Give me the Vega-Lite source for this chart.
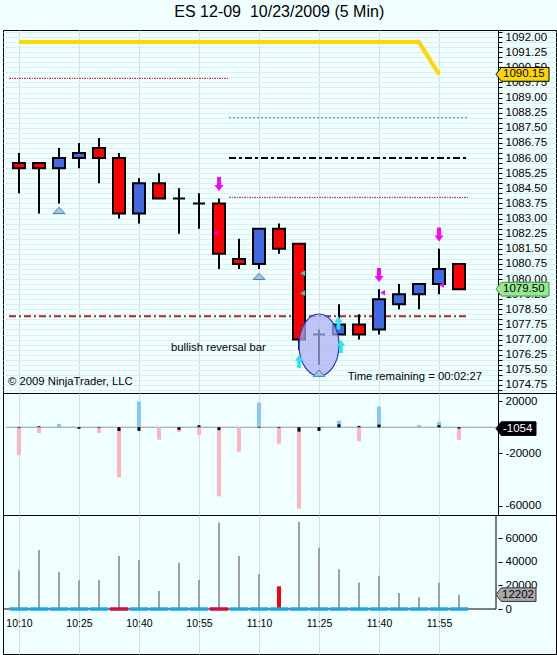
{
"$schema":"https://vega.github.io/schema/vega-lite/v6.json",
"background":"#F0FFFF",
"padding":{"left":2,"right":2,"top":3,"bottom":1},
"bounds":"flush",
"title":{"text":"ES 12-09\u00a0 10/23/2009 (5 Min)","fontSize":16,"fontWeight":"normal","font":"Liberation Sans","color":"#000000","anchor":"middle","offset":6},
"spacing":0,
"config":{"view":{"stroke":"#000000","strokeWidth":1},"scale":{"continuousPadding":0},"font":"Liberation Sans","axis":{"labelFont":"Liberation Sans","labelColor":"#000000","tickColor":"#000000","domainColor":"#000000","domainWidth":1,"tickWidth":1,"title":null}},
"datasets":{
"candles":[
{"t":"2009-10-23T10:10:00Z","o":1085.75,"h":1086.25,"l":1084.25,"c":1085.5,"stop":1091.75,"delta":-21300,"ticks":-500,"vol":33000,"state":"up","alert":false},
{"t":"2009-10-23T10:15:00Z","o":1085.75,"h":1085.75,"l":1083.25,"c":1085.5,"stop":1091.75,"delta":-4400,"ticks":700,"vol":50000,"state":"up","alert":false},
{"t":"2009-10-23T10:20:00Z","o":1085.5,"h":1086.5,"l":1083.75,"c":1086.0,"stop":1091.75,"delta":2600,"ticks":0,"vol":31300,"state":"up","alert":false},
{"t":"2009-10-23T10:25:00Z","o":1086.0,"h":1086.75,"l":1085.5,"c":1086.25,"stop":1091.75,"delta":0,"ticks":-1200,"vol":24500,"state":"up","alert":false},
{"t":"2009-10-23T10:30:00Z","o":1086.5,"h":1087.0,"l":1084.75,"c":1086.0,"stop":1091.75,"delta":-4400,"ticks":-500,"vol":24500,"state":"up","alert":false},
{"t":"2009-10-23T10:35:00Z","o":1086.0,"h":1086.25,"l":1083.0,"c":1083.25,"stop":1091.75,"delta":-38200,"ticks":-2800,"vol":45000,"state":"down","alert":false},
{"t":"2009-10-23T10:40:00Z","o":1083.25,"h":1085.0,"l":1082.75,"c":1084.75,"stop":1091.75,"delta":19500,"ticks":-2800,"vol":41500,"state":"up","alert":false},
{"t":"2009-10-23T10:45:00Z","o":1084.75,"h":1085.25,"l":1084.0,"c":1084.0,"stop":1091.75,"delta":-9500,"ticks":0,"vol":15300,"state":"up","alert":false},
{"t":"2009-10-23T10:50:00Z","o":1084.0,"h":1084.5,"l":1082.25,"c":1084.0,"stop":1091.75,"delta":-3600,"ticks":-2000,"vol":39300,"state":"up","alert":false},
{"t":"2009-10-23T10:55:00Z","o":1083.75,"h":1084.25,"l":1082.5,"c":1083.75,"stop":1091.75,"delta":-5800,"ticks":1500,"vol":24700,"state":"up","alert":false},
{"t":"2009-10-23T11:00:00Z","o":1083.75,"h":1084.0,"l":1080.5,"c":1081.25,"stop":1091.75,"delta":-52700,"ticks":-2200,"vol":73500,"state":"down","alert":false},
{"t":"2009-10-23T11:05:00Z","o":1081.0,"h":1082.0,"l":1080.5,"c":1080.75,"stop":1091.75,"delta":-18700,"ticks":0,"vol":45000,"state":"up","alert":false},
{"t":"2009-10-23T11:10:00Z","o":1080.75,"h":1082.5,"l":1080.5,"c":1082.5,"stop":1091.75,"delta":18700,"ticks":-500,"vol":29800,"state":"up","alert":false},
{"t":"2009-10-23T11:15:00Z","o":1082.5,"h":1082.75,"l":1081.25,"c":1081.5,"stop":1091.75,"delta":-12700,"ticks":-600,"vol":19300,"state":"up","alert":true},
{"t":"2009-10-23T11:20:00Z","o":1081.75,"h":1081.75,"l":1076.5,"c":1077.0,"stop":1091.75,"delta":-62100,"ticks":-3300,"vol":74000,"state":"up","alert":false},
{"t":"2009-10-23T11:25:00Z","o":1077.25,"h":1077.5,"l":1075.75,"c":1077.25,"stop":1091.75,"delta":0,"ticks":-2800,"vol":52000,"state":"up","alert":false},
{"t":"2009-10-23T11:30:00Z","o":1077.25,"h":1078.75,"l":1077.25,"c":1077.75,"stop":1091.75,"delta":4900,"ticks":2200,"vol":33800,"state":"up","alert":false},
{"t":"2009-10-23T11:35:00Z","o":1077.75,"h":1078.25,"l":1077.0,"c":1077.25,"stop":1091.75,"delta":-10600,"ticks":1000,"vol":22200,"state":"up","alert":false},
{"t":"2009-10-23T11:40:00Z","o":1077.5,"h":1079.5,"l":1077.25,"c":1079.0,"stop":1091.75,"delta":15700,"ticks":2000,"vol":28200,"state":"up","alert":false},
{"t":"2009-10-23T11:45:00Z","o":1078.75,"h":1079.75,"l":1078.5,"c":1079.25,"stop":1091.75,"delta":0,"ticks":0,"vol":13600,"state":"up","alert":false},
{"t":"2009-10-23T11:50:00Z","o":1079.25,"h":1079.75,"l":1078.5,"c":1079.75,"stop":1091.75,"delta":1700,"ticks":0,"vol":9900,"state":"up","alert":false},
{"t":"2009-10-23T11:55:00Z","o":1079.75,"h":1081.5,"l":1079.25,"c":1080.5,"stop":1090.15,"delta":4200,"ticks":1500,"vol":22200,"state":"up","alert":false},
{"t":"2009-10-23T12:00:00Z","o":1080.75,"h":1080.75,"l":1079.5,"c":1079.5,"stop":null,"delta":-9800,"ticks":-1054,"vol":12202,"state":"up","alert":false}
],
"levels":[
{"name":"L1","price":1089.95,"from":"2009-10-23T10:07:30Z","to":"2009-10-23T11:02:30Z"},
{"name":"L2","price":1088.0,"from":"2009-10-23T11:02:30Z","to":"2009-10-23T12:02:30Z"},
{"name":"L3","price":1086.0,"from":"2009-10-23T11:02:30Z","to":"2009-10-23T12:02:30Z"},
{"name":"L4","price":1084.05,"from":"2009-10-23T11:02:30Z","to":"2009-10-23T12:02:30Z"},
{"name":"L5","price":1078.15,"from":"2009-10-23T10:07:30Z","to":"2009-10-23T12:02:30Z"}
],
"signals":[
{"t":"2009-10-23T10:20:00Z","price":1083.41,"kind":"setup"},
{"t":"2009-10-23T11:10:00Z","price":1080.14,"kind":"setup"},
{"t":"2009-10-23T11:25:00Z","price":1075.34,"kind":"setup"},
{"t":"2009-10-23T11:00:00Z","price":1084.71,"kind":"short"},
{"t":"2009-10-23T11:40:00Z","price":1080.2,"kind":"short"},
{"t":"2009-10-23T11:55:00Z","price":1082.21,"kind":"short"},
{"t":"2009-10-23T10:59:15Z","price":1082.28,"kind":"exit"},
{"t":"2009-10-23T11:40:55Z","price":1079.32,"kind":"exit"},
{"t":"2009-10-23T11:55:40Z","price":1079.7,"kind":"exit"},
{"t":"2009-10-23T11:20:55Z","price":1080.29,"kind":"entry"},
{"t":"2009-10-23T11:20:55Z","price":1079.3,"kind":"entry"},
{"t":"2009-10-23T11:20:00Z","price":1075.9,"kind":"long"},
{"t":"2009-10-23T11:29:52Z","price":1077.82,"kind":"long"},
{"t":"2009-10-23T11:30:30Z","price":1076.65,"kind":"long"}
],
"notes":[
{"t":"2009-10-23T10:48:00Z","price":1076.58,"text":"bullish reversal bar","kind":"note"},
{"t":"2009-10-23T10:07:15Z","price":1074.9,"text":"© 2009 NinjaTrader, LLC","kind":"copyright"},
{"t":"2009-10-23T11:32:10Z","price":1075.14,"text":"Time remaining = 00:02:27","kind":"timer"}
],
"focus":[{"t":"2009-10-23T11:25:00Z","price":1076.73}],
"lastPrice":[{"series":"stop","value":1090.15},{"series":"last","value":1079.5}],
"lastDelta":[{"value":-1054}],
"lastVolume":[{"value":12202}],
"zero":[{"level":0}]
},
"vconcat":[
{"width":553,"height":363,"layer":[
{"data":{"name":"levels"},"transform":[{"filter":"datum.name === 'L1'"}],
 "mark":{"type":"rule","color":"#C0282D","strokeWidth":1,"strokeDash":[2,1,1,1]},
 "encoding":{
  "x":{"field":"from","type":"temporal","scale":{"type":"utc","nice":false,"padding":0,"domain":[{"year":2009,"month":10,"date":23,"hours":10,"minutes":6,"utc":true},{"year":2009,"month":10,"date":23,"hours":12,"minutes":24,"seconds":15,"utc":true}]},
   "axis":{"labels":false,"ticks":false,"domain":false,"grid":true,"gridColor":"#DCDCD2","title":null,"values":[{"year":2009,"month":10,"date":23,"hours":10,"minutes":10,"utc":true},{"year":2009,"month":10,"date":23,"hours":10,"minutes":25,"utc":true},{"year":2009,"month":10,"date":23,"hours":10,"minutes":40,"utc":true},{"year":2009,"month":10,"date":23,"hours":10,"minutes":55,"utc":true},{"year":2009,"month":10,"date":23,"hours":11,"minutes":10,"utc":true},{"year":2009,"month":10,"date":23,"hours":11,"minutes":25,"utc":true},{"year":2009,"month":10,"date":23,"hours":11,"minutes":40,"utc":true},{"year":2009,"month":10,"date":23,"hours":11,"minutes":55,"utc":true}]}},
  "x2":{"field":"to"},
  "y":{"field":"price","type":"quantitative","scale":{"domain":[1074.35,1092.35],"zero":false,"nice":false,"padding":0},
   "axis":{"orient":"right","offset":-58,"title":null,"tickSize":4,"tickCount":200,"labelPadding":3,"labelFontSize":11.5,"labelOverlap":false,"labelBound":false,"grid":true,"gridColor":"#DDF0F0",
    "labelExpr":"round((datum.value - 1074.75) * 4) % 3 === 0 ? format(datum.value, '.2f') : ''",
    "values":[1074.5,1074.75,1075,1075.25,1075.5,1075.75,1076,1076.25,1076.5,1076.75,1077,1077.25,1077.5,1077.75,1078,1078.25,1078.5,1078.75,1079,1079.25,1079.5,1079.75,1080,1080.25,1080.5,1080.75,1081,1081.25,1081.5,1081.75,1082,1082.25,1082.5,1082.75,1083,1083.25,1083.5,1083.75,1084,1084.25,1084.5,1084.75,1085,1085.25,1085.5,1085.75,1086,1086.25,1086.5,1086.75,1087,1087.25,1087.5,1087.75,1088,1088.25,1088.5,1088.75,1089,1089.25,1089.5,1089.75,1090,1090.25,1090.5,1090.75,1091,1091.25,1091.5,1091.75,1092,1092.25]}}
 }},
{"data":{"name":"levels"},"transform":[{"filter":"datum.name === 'L2'"}],
 "mark":{"type":"rule","color":"#3A78B8","strokeWidth":1,"strokeDash":[2,2]},
 "encoding":{"x":{"field":"from","type":"temporal","scale":{"type":"utc","nice":false,"padding":0,"domain":[{"year":2009,"month":10,"date":23,"hours":10,"minutes":6,"utc":true},{"year":2009,"month":10,"date":23,"hours":12,"minutes":24,"seconds":15,"utc":true}]}},"x2":{"field":"to"},
  "y":{"field":"price","type":"quantitative","scale":{"domain":[1074.35,1092.35],"zero":false,"nice":false,"padding":0}}}},
{"data":{"name":"levels"},"transform":[{"filter":"datum.name === 'L3'"}],
 "mark":{"type":"rule","color":"#000000","strokeWidth":2,"strokeDash":[7,3,3,3]},
 "encoding":{"x":{"field":"from","type":"temporal","scale":{"type":"utc","nice":false,"padding":0,"domain":[{"year":2009,"month":10,"date":23,"hours":10,"minutes":6,"utc":true},{"year":2009,"month":10,"date":23,"hours":12,"minutes":24,"seconds":15,"utc":true}]}},"x2":{"field":"to"},
  "y":{"field":"price","type":"quantitative","scale":{"domain":[1074.35,1092.35],"zero":false,"nice":false,"padding":0}}}},
{"data":{"name":"levels"},"transform":[{"filter":"datum.name === 'L4'"}],
 "mark":{"type":"rule","color":"#C0282D","strokeWidth":1,"strokeDash":[2,1,1,1]},
 "encoding":{"x":{"field":"from","type":"temporal","scale":{"type":"utc","nice":false,"padding":0,"domain":[{"year":2009,"month":10,"date":23,"hours":10,"minutes":6,"utc":true},{"year":2009,"month":10,"date":23,"hours":12,"minutes":24,"seconds":15,"utc":true}]}},"x2":{"field":"to"},
  "y":{"field":"price","type":"quantitative","scale":{"domain":[1074.35,1092.35],"zero":false,"nice":false,"padding":0}}}},
{"data":{"name":"levels"},"transform":[{"filter":"datum.name === 'L5'"}],
 "mark":{"type":"rule","color":"#B3262B","strokeWidth":2,"strokeDash":[7,3,2,3]},
 "encoding":{"x":{"field":"from","type":"temporal","scale":{"type":"utc","nice":false,"padding":0,"domain":[{"year":2009,"month":10,"date":23,"hours":10,"minutes":6,"utc":true},{"year":2009,"month":10,"date":23,"hours":12,"minutes":24,"seconds":15,"utc":true}]}},"x2":{"field":"to"},
  "y":{"field":"price","type":"quantitative","scale":{"domain":[1074.35,1092.35],"zero":false,"nice":false,"padding":0}}}},
{"data":{"name":"candles"},
 "mark":{"type":"line","color":"#FFD700","strokeWidth":4},
 "encoding":{"x":{"field":"t","type":"temporal","scale":{"type":"utc","nice":false,"padding":0,"domain":[{"year":2009,"month":10,"date":23,"hours":10,"minutes":6,"utc":true},{"year":2009,"month":10,"date":23,"hours":12,"minutes":24,"seconds":15,"utc":true}]}},
  "y":{"field":"stop","type":"quantitative","scale":{"domain":[1074.35,1092.35],"zero":false,"nice":false,"padding":0}}}},
{"data":{"name":"candles"},
 "mark":{"type":"rule","color":"#000000","strokeWidth":2},
 "encoding":{"x":{"field":"t","type":"temporal","scale":{"type":"utc","nice":false,"padding":0,"domain":[{"year":2009,"month":10,"date":23,"hours":10,"minutes":6,"utc":true},{"year":2009,"month":10,"date":23,"hours":12,"minutes":24,"seconds":15,"utc":true}]}},
  "y":{"field":"l","type":"quantitative","scale":{"domain":[1074.35,1092.35],"zero":false,"nice":false,"padding":0}},"y2":{"field":"h"}}},
{"data":{"name":"candles"},
 "mark":{"type":"bar","width":12,"stroke":"#000000","strokeWidth":2},
 "encoding":{"x":{"field":"t","type":"temporal","scale":{"type":"utc","nice":false,"padding":0,"domain":[{"year":2009,"month":10,"date":23,"hours":10,"minutes":6,"utc":true},{"year":2009,"month":10,"date":23,"hours":12,"minutes":24,"seconds":15,"utc":true}]}},
  "y":{"field":"o","type":"quantitative","scale":{"domain":[1074.35,1092.35],"zero":false,"nice":false,"padding":0}},"y2":{"field":"c"},
  "color":{"condition":{"test":"datum.c < datum.o","value":"#FF0000"},"value":"#4169E1"}}},
{"data":{"name":"focus"},
 "mark":{"type":"point","shape":"M-0.645,0 A0.645,1 0 1,1 0.645,0 A0.645,1 0 1,1 -0.645,0 Z","size":3844,"filled":true,"fill":"#A9B0F2","fillOpacity":0.72,"stroke":"#2A3AD0","strokeWidth":1.2,"opacity":1},
 "encoding":{"x":{"field":"t","type":"temporal","scale":{"type":"utc","nice":false,"padding":0,"domain":[{"year":2009,"month":10,"date":23,"hours":10,"minutes":6,"utc":true},{"year":2009,"month":10,"date":23,"hours":12,"minutes":24,"seconds":15,"utc":true}]}},
  "y":{"field":"price","type":"quantitative","scale":{"domain":[1074.35,1092.35],"zero":false,"nice":false,"padding":0}}}},
{"data":{"name":"signals"},"transform":[{"filter":"datum.kind === 'setup'"}],
 "mark":{"type":"point","shape":"M-1,0.55 L0,-0.5 L1,0.55 Z","size":144,"filled":true,"fill":"#9CC8EC","stroke":"#4A7EB8","strokeWidth":1,"opacity":1},
 "encoding":{"x":{"field":"t","type":"temporal","scale":{"type":"utc","nice":false,"padding":0,"domain":[{"year":2009,"month":10,"date":23,"hours":10,"minutes":6,"utc":true},{"year":2009,"month":10,"date":23,"hours":12,"minutes":24,"seconds":15,"utc":true}]}},
  "y":{"field":"price","type":"quantitative","scale":{"domain":[1074.35,1092.35],"zero":false,"nice":false,"padding":0}}}},
{"data":{"name":"signals"},"transform":[{"filter":"datum.kind === 'short'"}],
 "mark":{"type":"point","shape":"M-0.28,-1 L0.28,-1 L0.28,0.15 L0.65,0.15 L0,1 L-0.65,0.15 L-0.28,0.15 Z","size":196,"filled":true,"fill":"#FF00FF","strokeWidth":0,"opacity":1},
 "encoding":{"x":{"field":"t","type":"temporal","scale":{"type":"utc","nice":false,"padding":0,"domain":[{"year":2009,"month":10,"date":23,"hours":10,"minutes":6,"utc":true},{"year":2009,"month":10,"date":23,"hours":12,"minutes":24,"seconds":15,"utc":true}]}},
  "y":{"field":"price","type":"quantitative","scale":{"domain":[1074.35,1092.35],"zero":false,"nice":false,"padding":0}}}},
{"data":{"name":"signals"},"transform":[{"filter":"datum.kind === 'long'"}],
 "mark":{"type":"point","shape":"M-0.28,1 L0.28,1 L0.28,-0.15 L0.65,-0.15 L0,-1 L-0.65,-0.15 L-0.28,-0.15 Z","size":169,"filled":true,"fill":"#2CE5F0","strokeWidth":0,"opacity":1},
 "encoding":{"x":{"field":"t","type":"temporal","scale":{"type":"utc","nice":false,"padding":0,"domain":[{"year":2009,"month":10,"date":23,"hours":10,"minutes":6,"utc":true},{"year":2009,"month":10,"date":23,"hours":12,"minutes":24,"seconds":15,"utc":true}]}},
  "y":{"field":"price","type":"quantitative","scale":{"domain":[1074.35,1092.35],"zero":false,"nice":false,"padding":0}}}},
{"data":{"name":"signals"},"transform":[{"filter":"datum.kind === 'exit'"}],
 "mark":{"type":"point","shape":"triangle-left","size":30,"filled":true,"fill":"#FF00FF","strokeWidth":0,"opacity":1},
 "encoding":{"x":{"field":"t","type":"temporal","scale":{"type":"utc","nice":false,"padding":0,"domain":[{"year":2009,"month":10,"date":23,"hours":10,"minutes":6,"utc":true},{"year":2009,"month":10,"date":23,"hours":12,"minutes":24,"seconds":15,"utc":true}]}},
  "y":{"field":"price","type":"quantitative","scale":{"domain":[1074.35,1092.35],"zero":false,"nice":false,"padding":0}}}},
{"data":{"name":"signals"},"transform":[{"filter":"datum.kind === 'entry'"}],
 "mark":{"type":"point","shape":"triangle-left","size":34,"filled":true,"fill":"#3CC7C7","strokeWidth":0,"opacity":1},
 "encoding":{"x":{"field":"t","type":"temporal","scale":{"type":"utc","nice":false,"padding":0,"domain":[{"year":2009,"month":10,"date":23,"hours":10,"minutes":6,"utc":true},{"year":2009,"month":10,"date":23,"hours":12,"minutes":24,"seconds":15,"utc":true}]}},
  "y":{"field":"price","type":"quantitative","scale":{"domain":[1074.35,1092.35],"zero":false,"nice":false,"padding":0}}}},
{"data":{"name":"notes"},
 "mark":{"type":"text","align":"left","baseline":"middle","fontSize":11.3,"font":"Liberation Sans","color":"#000000"},
 "encoding":{"x":{"field":"t","type":"temporal","scale":{"type":"utc","nice":false,"padding":0,"domain":[{"year":2009,"month":10,"date":23,"hours":10,"minutes":6,"utc":true},{"year":2009,"month":10,"date":23,"hours":12,"minutes":24,"seconds":15,"utc":true}]}},
  "y":{"field":"price","type":"quantitative","scale":{"domain":[1074.35,1092.35],"zero":false,"nice":false,"padding":0}},"text":{"field":"text"}}},
{"data":{"name":"lastPrice"},
 "mark":{"type":"point","shape":"M0,0 L0.1,-0.13 L1,-0.13 L1,0.13 L0.1,0.13 Z","size":11236,"filled":true,"strokeWidth":1,"opacity":1},
 "encoding":{"x":{"datum":{"year":2009,"month":10,"date":23,"hours":12,"minutes":9,"seconds":15,"utc":true},"type":"temporal","scale":{"type":"utc","nice":false,"padding":0,"domain":[{"year":2009,"month":10,"date":23,"hours":10,"minutes":6,"utc":true},{"year":2009,"month":10,"date":23,"hours":12,"minutes":24,"seconds":15,"utc":true}]}},
  "y":{"field":"value","type":"quantitative","scale":{"domain":[1074.35,1092.35],"zero":false,"nice":false,"padding":0}},
  "fill":{"condition":{"test":"datum.series === 'stop'","value":"#FFD700"},"value":"#98E898"},
  "stroke":{"condition":{"test":"datum.series === 'stop'","value":"#000000"},"value":"#3A9A3A"}}},
{"data":{"name":"lastPrice"},
 "mark":{"type":"text","align":"left","baseline":"middle","dx":7,"fontSize":11.5,"font":"Liberation Sans","color":"#000000"},
 "encoding":{"x":{"datum":{"year":2009,"month":10,"date":23,"hours":12,"minutes":9,"seconds":15,"utc":true},"type":"temporal","scale":{"type":"utc","nice":false,"padding":0,"domain":[{"year":2009,"month":10,"date":23,"hours":10,"minutes":6,"utc":true},{"year":2009,"month":10,"date":23,"hours":12,"minutes":24,"seconds":15,"utc":true}]}},
  "y":{"field":"value","type":"quantitative","scale":{"domain":[1074.35,1092.35],"zero":false,"nice":false,"padding":0}},
  "text":{"field":"value","type":"quantitative","format":".2f"}}}
]},
{"width":553,"height":122,"layer":[
{"data":{"name":"zero"},
 "mark":{"type":"rule","color":"#9A9A9A","strokeWidth":1},
 "encoding":{"x":{"datum":{"year":2009,"month":10,"date":23,"hours":10,"minutes":6,"seconds":45,"utc":true},"type":"temporal","scale":{"type":"utc","nice":false,"padding":0,"domain":[{"year":2009,"month":10,"date":23,"hours":10,"minutes":6,"utc":true},{"year":2009,"month":10,"date":23,"hours":12,"minutes":24,"seconds":15,"utc":true}]}},
  "x2":{"datum":{"year":2009,"month":10,"date":23,"hours":12,"minutes":9,"seconds":15,"utc":true}},
  "y":{"field":"level","type":"quantitative","scale":{"domain":[-66900,26100],"zero":false,"nice":false,"padding":0}}}},
{"data":{"name":"candles"},
 "mark":{"type":"bar","width":4},
 "encoding":{"x":{"field":"t","type":"temporal","scale":{"type":"utc","nice":false,"padding":0,"domain":[{"year":2009,"month":10,"date":23,"hours":10,"minutes":6,"utc":true},{"year":2009,"month":10,"date":23,"hours":12,"minutes":24,"seconds":15,"utc":true}]},
   "axis":{"labels":false,"ticks":false,"domain":false,"grid":true,"gridColor":"#DCDCD2","title":null,"values":[{"year":2009,"month":10,"date":23,"hours":10,"minutes":10,"utc":true},{"year":2009,"month":10,"date":23,"hours":10,"minutes":25,"utc":true},{"year":2009,"month":10,"date":23,"hours":10,"minutes":40,"utc":true},{"year":2009,"month":10,"date":23,"hours":10,"minutes":55,"utc":true},{"year":2009,"month":10,"date":23,"hours":11,"minutes":10,"utc":true},{"year":2009,"month":10,"date":23,"hours":11,"minutes":25,"utc":true},{"year":2009,"month":10,"date":23,"hours":11,"minutes":40,"utc":true},{"year":2009,"month":10,"date":23,"hours":11,"minutes":55,"utc":true}]}},
  "y":{"field":"delta","type":"quantitative","scale":{"domain":[-66900,26100],"zero":false,"nice":false,"padding":0},
   "axis":{"orient":"right","offset":-58,"title":null,"tickSize":4,"labelPadding":3,"labelFontSize":11.5,"grid":false,"labelOverlap":false,"labelBound":false,"values":[-60000,-40000,-20000,0,20000],"labelExpr":"datum.value === 0 ? '' : '' + datum.value"}},
  "y2":{"datum":0},
  "color":{"condition":{"test":"datum.delta > 0","value":"#87C8F2"},"value":"#FFB3C0"}}},
{"data":{"name":"candles"},
 "mark":{"type":"bar","width":3,"color":"#000000"},
 "encoding":{"x":{"field":"t","type":"temporal","scale":{"type":"utc","nice":false,"padding":0,"domain":[{"year":2009,"month":10,"date":23,"hours":10,"minutes":6,"utc":true},{"year":2009,"month":10,"date":23,"hours":12,"minutes":24,"seconds":15,"utc":true}]}},
  "y":{"field":"ticks","type":"quantitative","scale":{"domain":[-66900,26100],"zero":false,"nice":false,"padding":0}},"y2":{"datum":0}}},
{"data":{"name":"lastDelta"},
 "mark":{"type":"point","shape":"M0,0 L0.13,-0.17 L1,-0.17 L1,0.17 L0.13,0.17 Z","size":6400,"filled":true,"fill":"#000000","stroke":"#000000","strokeWidth":1,"opacity":1},
 "encoding":{"x":{"datum":{"year":2009,"month":10,"date":23,"hours":12,"minutes":9,"seconds":15,"utc":true},"type":"temporal","scale":{"type":"utc","nice":false,"padding":0,"domain":[{"year":2009,"month":10,"date":23,"hours":10,"minutes":6,"utc":true},{"year":2009,"month":10,"date":23,"hours":12,"minutes":24,"seconds":15,"utc":true}]}},
  "y":{"field":"value","type":"quantitative","scale":{"domain":[-66900,26100],"zero":false,"nice":false,"padding":0}}}},
{"data":{"name":"lastDelta"},
 "mark":{"type":"text","align":"left","baseline":"middle","dx":7,"fontSize":11.5,"font":"Liberation Sans","color":"#FFFFFF"},
 "encoding":{"x":{"datum":{"year":2009,"month":10,"date":23,"hours":12,"minutes":9,"seconds":15,"utc":true},"type":"temporal","scale":{"type":"utc","nice":false,"padding":0,"domain":[{"year":2009,"month":10,"date":23,"hours":10,"minutes":6,"utc":true},{"year":2009,"month":10,"date":23,"hours":12,"minutes":24,"seconds":15,"utc":true}]}},
  "y":{"field":"value","type":"quantitative","scale":{"domain":[-66900,26100],"zero":false,"nice":false,"padding":0}},
  "text":{"field":"value","type":"nominal"}}}
]},
{"width":553,"height":139,"layer":[
{"data":{"name":"zero"},
 "mark":{"type":"rule","color":"#000000","strokeWidth":1},
 "encoding":{"x":{"datum":{"year":2009,"month":10,"date":23,"hours":10,"minutes":6,"utc":true},"type":"temporal","scale":{"type":"utc","nice":false,"padding":0,"domain":[{"year":2009,"month":10,"date":23,"hours":10,"minutes":6,"utc":true},{"year":2009,"month":10,"date":23,"hours":12,"minutes":24,"seconds":15,"utc":true}]}},
  "x2":{"datum":{"year":2009,"month":10,"date":23,"hours":12,"minutes":9,"seconds":15,"utc":true}},
  "y":{"field":"level","type":"quantitative","scale":{"domain":[-38200,79800],"zero":false,"nice":false,"padding":0}}}},
{"data":{"name":"zero"},
 "mark":{"type":"rule","color":"#000000","strokeWidth":1},
 "encoding":{"x":{"datum":{"year":2009,"month":10,"date":23,"hours":12,"minutes":9,"seconds":15,"utc":true},"type":"temporal","scale":{"type":"utc","nice":false,"padding":0,"domain":[{"year":2009,"month":10,"date":23,"hours":10,"minutes":6,"utc":true},{"year":2009,"month":10,"date":23,"hours":12,"minutes":24,"seconds":15,"utc":true}]}},
  "y":{"field":"level","type":"quantitative","scale":{"domain":[-38200,79800],"zero":false,"nice":false,"padding":0}},
  "y2":{"datum":79800}}},
{"data":{"name":"candles"},"transform":[{"filter":"!datum.alert"}],
 "mark":{"type":"rule","color":"#A0A0A0","strokeWidth":2},
 "encoding":{"x":{"field":"t","type":"temporal","scale":{"type":"utc","nice":false,"padding":0,"domain":[{"year":2009,"month":10,"date":23,"hours":10,"minutes":6,"utc":true},{"year":2009,"month":10,"date":23,"hours":12,"minutes":24,"seconds":15,"utc":true}]},
   "axis":{"orient":"bottom","offset":-45,"format":"%H:%M","labelFontSize":10.5,"labelPadding":9,"ticks":false,"domain":false,"grid":true,"gridColor":"#DCDCD2","title":null,"labelFlush":false,"values":[{"year":2009,"month":10,"date":23,"hours":10,"minutes":10,"utc":true},{"year":2009,"month":10,"date":23,"hours":10,"minutes":25,"utc":true},{"year":2009,"month":10,"date":23,"hours":10,"minutes":40,"utc":true},{"year":2009,"month":10,"date":23,"hours":10,"minutes":55,"utc":true},{"year":2009,"month":10,"date":23,"hours":11,"minutes":10,"utc":true},{"year":2009,"month":10,"date":23,"hours":11,"minutes":25,"utc":true},{"year":2009,"month":10,"date":23,"hours":11,"minutes":40,"utc":true},{"year":2009,"month":10,"date":23,"hours":11,"minutes":55,"utc":true}]}},
  "y":{"field":"vol","type":"quantitative","scale":{"domain":[-38200,79800],"zero":false,"nice":false,"padding":0},
   "axis":{"orient":"right","offset":-58,"title":null,"tickSize":4,"labelPadding":3,"labelFontSize":11.5,"grid":false,"domain":false,"labelOverlap":false,"labelBound":false,"values":[0,20000,40000,60000],"labelExpr":"'' + datum.value"}},
  "y2":{"datum":0}}},
{"data":{"name":"candles"},"transform":[{"filter":"datum.alert"}],
 "mark":{"type":"bar","width":4,"color":"#FF0000"},
 "encoding":{"x":{"field":"t","type":"temporal","scale":{"type":"utc","nice":false,"padding":0,"domain":[{"year":2009,"month":10,"date":23,"hours":10,"minutes":6,"utc":true},{"year":2009,"month":10,"date":23,"hours":12,"minutes":24,"seconds":15,"utc":true}]}},
  "y":{"field":"vol","type":"quantitative","scale":{"domain":[-38200,79800],"zero":false,"nice":false,"padding":0}},"y2":{"datum":0}}},
{"data":{"name":"candles"},
 "mark":{"type":"tick","orient":"horizontal","size":18.5,"thickness":3.5,"opacity":1},
 "encoding":{"x":{"field":"t","type":"temporal","scale":{"type":"utc","nice":false,"padding":0,"domain":[{"year":2009,"month":10,"date":23,"hours":10,"minutes":6,"utc":true},{"year":2009,"month":10,"date":23,"hours":12,"minutes":24,"seconds":15,"utc":true}]}},
  "y":{"datum":0,"type":"quantitative","scale":{"domain":[-38200,79800],"zero":false,"nice":false,"padding":0}},
  "color":{"condition":{"test":"datum.state === 'down'","value":"#CC1040"},"value":"#1EA8E0"}}},
{"data":{"name":"lastVolume"},
 "mark":{"type":"point","shape":"M0,0 L0.13,-0.17 L1,-0.17 L1,0.17 L0.13,0.17 Z","size":6400,"filled":true,"fill":"#A9A9A9","stroke":"#333333","strokeWidth":1,"opacity":1},
 "encoding":{"x":{"datum":{"year":2009,"month":10,"date":23,"hours":12,"minutes":9,"seconds":15,"utc":true},"type":"temporal","scale":{"type":"utc","nice":false,"padding":0,"domain":[{"year":2009,"month":10,"date":23,"hours":10,"minutes":6,"utc":true},{"year":2009,"month":10,"date":23,"hours":12,"minutes":24,"seconds":15,"utc":true}]}},
  "y":{"field":"value","type":"quantitative","scale":{"domain":[-38200,79800],"zero":false,"nice":false,"padding":0}}}},
{"data":{"name":"lastVolume"},
 "mark":{"type":"text","align":"left","baseline":"middle","dx":6,"fontSize":11.5,"font":"Liberation Sans","color":"#000000"},
 "encoding":{"x":{"datum":{"year":2009,"month":10,"date":23,"hours":12,"minutes":9,"seconds":15,"utc":true},"type":"temporal","scale":{"type":"utc","nice":false,"padding":0,"domain":[{"year":2009,"month":10,"date":23,"hours":10,"minutes":6,"utc":true},{"year":2009,"month":10,"date":23,"hours":12,"minutes":24,"seconds":15,"utc":true}]}},
  "y":{"field":"value","type":"quantitative","scale":{"domain":[-38200,79800],"zero":false,"nice":false,"padding":0}},
  "text":{"field":"value","type":"nominal"}}}
]}
]
}
